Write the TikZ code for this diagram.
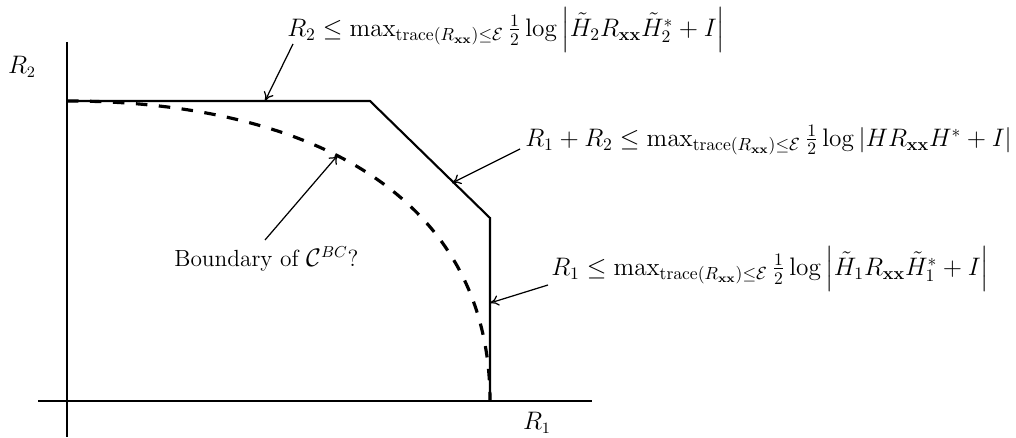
\documentclass[tikz,border=0pt]{standalone}
\usepackage{amsmath}
\usepackage{amssymb}
\usepackage{tikz}
\usetikzlibrary{arrows.meta,positioning}
\tikzset{
  axisline/.style={line width=1.1pt},
  regionline/.style={line width=1.2pt, line join=miter},
  boundline/.style={line width=1.8pt, dash pattern=on 2.3mm off 2.3mm},
  pointer/.style={-{To[length=5pt,width=6pt]}, line width=0.7pt},
  axislabel/.style={font=\fontsize{13.5}{16}\selectfont, inner sep=0pt},
  boundlabel/.style={anchor=west, font=\fontsize{14.2}{17}\selectfont, inner sep=0pt},
  textlabel/.style={anchor=west, font=\fontsize{13.3}{16}\selectfont, inner sep=0pt},
}

\begin{document}
\begin{tikzpicture}[x=0.02cm,y=-0.02cm]
\useasboundingbox (0,0) rectangle (1016,438);

% axes
\coordinate (xl) at (38,401);
\coordinate (xr) at (592,401);
\coordinate (yt) at (67,42);
\coordinate (yb) at (67,437);
\draw[axisline] (xl) -- (xr);
\draw[axisline] (yt) -- (yb);
\node[axislabel] (r1lab) at (537,423) {$R_1$};
\node[axislabel] (r2lab) at (22,67) {$R_2$};

% capacity region and guessed boundary
\coordinate (corner0) at (67,101);
\coordinate (corner1) at (370,101);
\coordinate (corner2) at (490,218);
\coordinate (corner3) at (490,401);
\draw[regionline] (corner0) -- (corner1) -- (corner2) -- (corner3);
\draw[boundline] (corner0) .. controls (300,101) and (490,190) .. (corner3);

% bounds
\node[boundlabel] (capR2) at (287,30)
  {$R_2 \le \max_{\mathrm{trace}(R_{\mathbf{xx}})\le\mathcal{E}} \tfrac12 \log\left|\tilde H_2 R_{\mathbf{xx}} \tilde H_2^* + I\right|$};
\node[boundlabel] (capSum) at (525,140)
  {$R_1 + R_2 \le \max_{\mathrm{trace}(R_{\mathbf{xx}})\le\mathcal{E}} \tfrac12 \log\left|H R_{\mathbf{xx}} H^* + I\right|$};
\node[boundlabel] (capR1) at (551,269)
  {$R_1 \le \max_{\mathrm{trace}(R_{\mathbf{xx}})\le\mathcal{E}} \tfrac12 \log\left|\tilde H_1 R_{\mathbf{xx}} \tilde H_1^* + I\right|$};
\node[textlabel] (capBC) at (174,259) {Boundary of $\mathcal{C}^{BC}$?};

\coordinate (fromR2) at (293,44);
\coordinate (onR2) at (265,101);
\coordinate (fromSum) at (520,149);
\coordinate (onSum) at (452,183);
\coordinate (fromR1) at (548,285);
\coordinate (onR1) at (490,303);
\coordinate (fromBC) at (265,240);
\coordinate (onBC) at (338,155);
\draw[pointer] (fromR2) -- (onR2);
\draw[pointer] (fromSum) -- (onSum);
\draw[pointer] (fromR1) -- (onR1);
\draw[pointer] (fromBC) -- (onBC);

\end{tikzpicture}
\end{document}
